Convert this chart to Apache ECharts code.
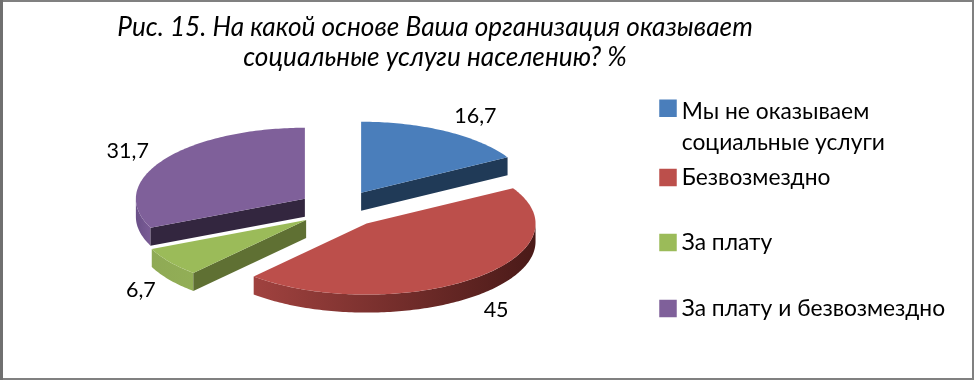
<!DOCTYPE html>
<html>
<head>
<meta charset="utf-8">
<style>
html,body{margin:0;padding:0;background:#fff}
#main{width:974px;height:380px}
</style>
<script src="https://cdn.jsdelivr.net/npm/echarts@6/dist/echarts.min.js"></script>
</head>
<body>
<div id="main"></div>
<script>
const titleText = 'Рис. 15. На какой основе Ваша организация оказывает\nсоциальные услуги населению? %';
const categories = ['Мы не оказываем\nсоциальные услуги', 'Безвозмездно', 'За плату', 'За плату и безвозмездно'];
const values = [16.7, 45, 6.7, 31.7];

const topColors = ['#4A7EBB', '#BC4F4B', '#9BBB59', '#7F609A'];
const cutColors = ['#203A57', '#4A1A18', '#5F7033', '#33263F'];
const wallColors = [['#203A57', '#203A57'], ['#A0423F', '#4A1A18'], ['#8FAA55', '#92AE56'], ['#6A5088', '#7A5C96']];
const legendTops = [96.5, 162, 227, 293];
const layerZ = [2, 4, 3, 2];

// pie geometry (ellipse radii, extrusion depth, explosion as a share of the radius)
const cx = 340.1, cy = 209, rx = 169, ry = 71, depth = 18, explodeX = 0.2485, explodeY = 0.265, labelGap = 17;
const fontName = 'Lato, "Open Sans", sans-serif';

const total = values.reduce((a, b) => a + b, 0);
function edge(x0, y0, deg) {
  const t = deg * Math.PI / 180;
  return [x0 + rx * Math.sin(t), y0 - ry * Math.cos(t)];
}
function arc(x0, y0, from, to) {
  const pts = [];
  for (let d = from; d < to; d += 1) pts.push(edge(x0, y0, d));
  pts.push(edge(x0, y0, to));
  return pts;
}

function drawSlice(idx) {
  return function (params, api) {
    const val = api.value(0);
    const before = values.slice(0, idx).reduce((a, b) => a + b, 0);
    const start = before / total * 360;
    const end = start + val / total * 360;
    const mid = (start + end) / 2 * Math.PI / 180;
    const ax = cx + rx * explodeX * Math.sin(mid);
    const ay = cy - ry * explodeY * Math.cos(mid);
    const children = [];

    // outer wall, only the part facing the viewer
    const wFrom = Math.max(start, 90), wTo = Math.min(end, 270);
    if (wFrom < wTo) {
      const upper = arc(ax, ay, wFrom, wTo);
      const lower = upper.map(p => [p[0], p[1] + depth]).reverse();
      children.push({
        type: 'polygon',
        shape: { points: upper.concat(lower) },
        style: { fill: new echarts.graphic.LinearGradient(0, 0, 1, 0, [
          { offset: 0, color: wallColors[idx][0] },
          { offset: 1, color: wallColors[idx][1] }
        ]) }
      });
    }
    // cut faces
    const cut = deg => {
      const p = edge(ax, ay, deg);
      children.push({
        type: 'polygon',
        shape: { points: [[ax, ay], p, [p[0], p[1] + depth], [ax, ay + depth]] },
        style: { fill: cutColors[idx] }
      });
    };
    if (start > 180) cut(start);
    if (end < 180) cut(end);
    // top face
    children.push({
      type: 'polygon',
      shape: { points: [[ax, ay]].concat(arc(ax, ay, start, end)) },
      style: { fill: topColors[idx] }
    });
    // value label
    const sx = Math.sin(mid), cs = Math.cos(mid);
    children.push({
      type: 'text',
      style: {
        text: String(val).replace('.', ','),
        x: ax + (rx + labelGap) * sx,
        y: ay - (ry + labelGap) * cs + (cs < 0 ? depth : 0),
        fill: '#000',
        font: '21.5px ' + fontName,
        align: sx > 0 ? 'left' : 'right',
        verticalAlign: 'middle'
      }
    });
    return { type: 'group', children };
  };
}

const chart = echarts.init(document.getElementById('main'));
chart.setOption({
  animation: false,
  backgroundColor: '#fff',
  title: {
    text: titleText,
    left: 430,
    top: 8,
    textAlign: 'center',
    textStyle: { fontFamily: fontName, fontSize: 26.2, fontStyle: 'italic', fontWeight: 'normal', color: '#000', lineHeight: 30 }
  },
  legend: categories.map((name, i) => ({
    data: [name],
    orient: 'vertical',
    left: 659.25,
    top: legendTops[i],
    padding: 0,
    itemWidth: 17.5,
    itemHeight: i == 0 ? 62 : 17.5,
    symbolKeepAspect: false,
    // first entry has two lines, keep its square next to the first one
    icon: i == 0 ? 'path://M0 0H0.01V0.01H0Z M0 2.3H14V16.3H0Z M0 49.59H0.01V49.6H0Z' : 'rect',
    selectedMode: false,
    textStyle: { fontFamily: fontName, fontSize: 22.8, color: '#000', lineHeight: 31 }
  })),
  series: categories.map((name, i) => ({
    type: 'custom',
    name: name,
    coordinateSystem: 'none',
    z: layerZ[i],
    itemStyle: { color: topColors[i] },
    data: [[values[i]]],
    renderItem: drawSlice(i)
  })),
  graphic: [{
    type: 'rect',
    silent: true,
    z: 100,
    shape: { x: 1, y: 1, width: 972, height: 378 },
    style: { fill: 'none', stroke: '#808080', lineWidth: 2 }
  }, {
    type: 'rect',
    silent: true,
    z: 100,
    shape: { x: 0, y: 0, width: 3, height: 380 },
    style: { fill: '#707070' }
  }]
});
</script>
</body>
</html>
